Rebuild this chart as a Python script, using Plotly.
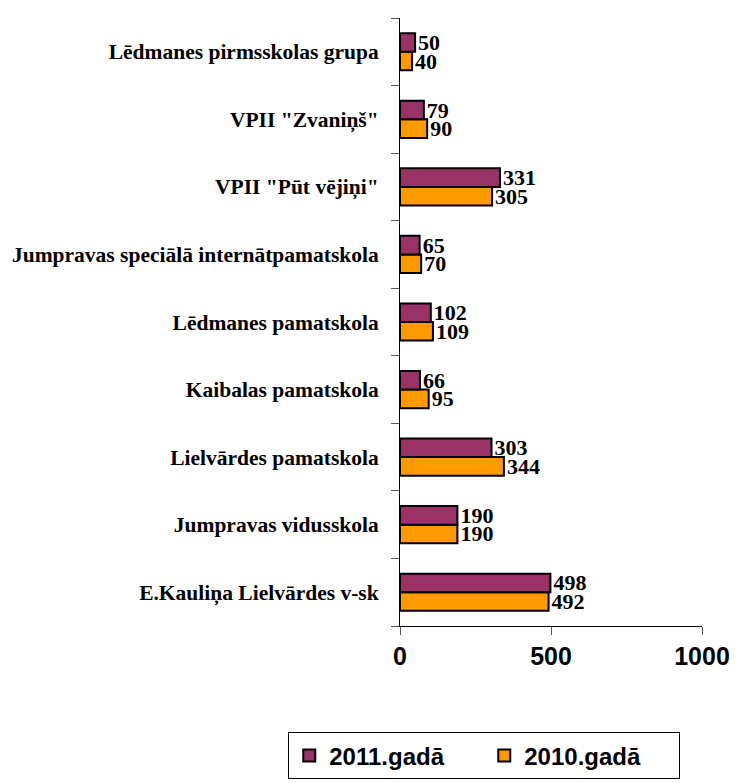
import plotly.graph_objects as go

categories = [
    "E.Kauliņa Lielvārdes v-sk",
    "Jumpravas vidusskola",
    "Lielvārdes pamatskola",
    "Kaibalas pamatskola",
    "Lēdmanes pamatskola",
    "Jumpravas speciālā internātpamatskola",
    "VPII \"Pūt vējiņi\"",
    "VPII \"Zvaniņš\"",
    "Lēdmanes pirmsskolas grupa",
]
values_2011 = [498, 190, 303, 66, 102, 65, 331, 79, 50]
values_2010 = [492, 190, 344, 95, 109, 70, 305, 90, 40]
x_ticks = [0, 500, 1000]

label_font = dict(family="Liberation Serif, Times New Roman, serif", size=22,
                  color="black", weight="bold")

fig = go.Figure()
fig.add_trace(go.Bar(
    y=categories, x=values_2010, orientation="h", name="2010.gadā",
    marker=dict(color="#FF9900", line=dict(color="black", width=2)),
    text=[str(v) for v in values_2010], textposition="outside",
    textfont=label_font, cliponaxis=False, constraintext="none",
))
fig.add_trace(go.Bar(
    y=categories, x=values_2011, orientation="h", name="2011.gadā",
    marker=dict(color="#993366", line=dict(color="black", width=2)),
    text=[str(v) for v in values_2011], textposition="outside",
    textfont=label_font, cliponaxis=False, constraintext="none",
))

fig.update_layout(
    width=731, height=775,
    paper_bgcolor="white", plot_bgcolor="white",
    barmode="group", bargap=0.45, bargroupgap=0.0,
    margin=dict(l=392, r=37, t=10, b=157, autoexpand=False),
    font=dict(family="Liberation Serif, Times New Roman, serif", color="black"),
    showlegend=True,
    legend=dict(
        orientation="h", traceorder="reversed",
        x=-0.37, xanchor="left", y=-0.175, yanchor="top",
        font=dict(family="Liberation Sans, Arial, sans-serif", size=24,
                  color="black", weight="bold"),
        bordercolor="black", borderwidth=1, bgcolor="white",
        itemwidth=30, entrywidth=150,
    ),
)
fig.update_xaxes(
    range=[0, 1000], tickvals=x_ticks, ticktext=[str(t) for t in x_ticks],
    showgrid=False, zeroline=False, automargin=False,
    showline=True, linecolor="black", linewidth=1,
    ticks="outside", ticklen=8, tickcolor="#555555",
    tickfont=dict(family="Liberation Sans, Arial, sans-serif", size=25,
                  color="black", weight="bold"),
)
fig.update_yaxes(
    categoryorder="array", categoryarray=categories,
    showgrid=False, zeroline=False, automargin=False,
    showline=True, linecolor="black", linewidth=1,
    ticks="outside", ticklen=8, tickcolor="#555555", tickson="boundaries",
    tickfont=dict(family="Liberation Serif, Times New Roman, serif", size=21.5,
                  color="black", weight="bold"),
    ticklabelstandoff=16,
)

fig.write_html("out.html")
